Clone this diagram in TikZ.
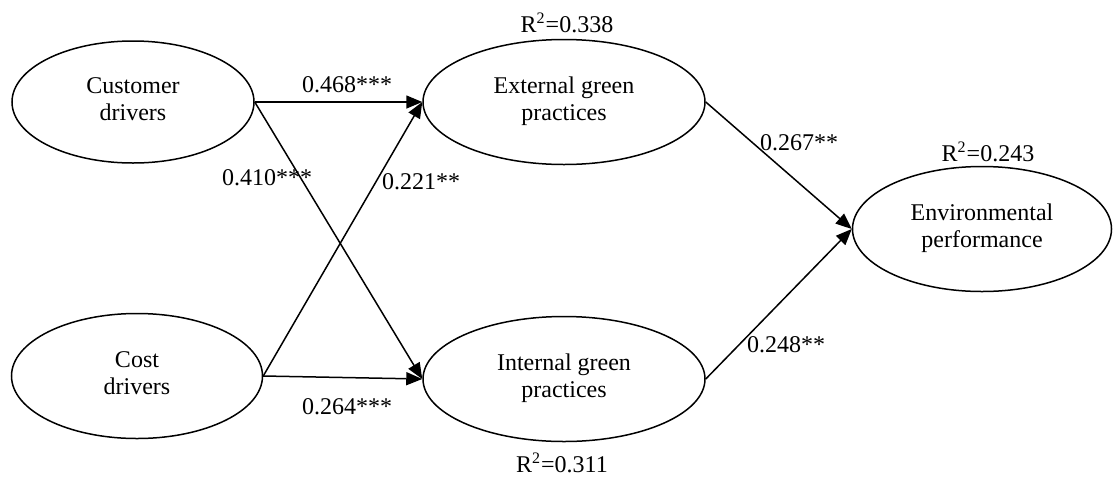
\documentclass[tikz,border=0pt]{standalone}
\usepackage{fontspec}
\setmainfont{Liberation Serif}
\usetikzlibrary{arrows.meta,shapes.geometric}
\begin{document}
\begin{tikzpicture}[x=0.5pt,y=-0.5pt,
  construct/.style={draw,ellipse,line width=0.75pt,inner sep=0pt,align=center,
    text depth=3.2pt,font=\fontsize{12}{13.5}\selectfont},
  arr/.style={line width=0.75pt,-{Triangle[length=8pt,width=6.5pt]}},
  coef/.style={inner sep=0pt,font=\fontsize{12}{13.5}\selectfont}]
\useasboundingbox (0,0) rectangle (1113,477);
\node[construct,minimum width=121pt,minimum height=61pt] (cust) at (133,102) {Customer\\drivers};
\node[construct,minimum width=125.5pt,minimum height=62.5pt] (cost) at (137,376) {Cost\\drivers};
\node[construct,minimum width=141pt,minimum height=62.5pt] (ext) at (564,102) {External green\\practices};
\node[construct,minimum width=141pt,minimum height=62.5pt] (int) at (564,379) {Internal green\\practices};
\node[construct,minimum width=129.5pt,minimum height=62.5pt] (env) at (982,229) {Environmental\\performance};
\draw[arr] (cust.east) -- (ext.west);
\draw[arr] (cust.east) -- (int.west);
\draw[arr] (cost.east) -- (ext.west);
\draw[arr] (cost.east) -- (int.west);
\draw[arr] (ext.east) -- (env.west);
\draw[arr] (int.east) -- (env.west);
\node[coef] (l1) at (347,85) {0.468***};
\node[coef] (l2) at (267,178) {0.410***};
\node[coef] (l3) at (421,182) {0.221**};
\node[coef] (l4) at (347,407) {0.264***};
\node[coef] (l5) at (799,143) {0.267**};
\node[coef] (l6) at (786,345) {0.248**};
\node[coef] (r1) at (567,23) {R\textsuperscript{2}=0.338};
\node[coef] (r2) at (988,152) {R\textsuperscript{2}=0.243};
\node[coef] (r3) at (562,463) {R\textsuperscript{2}=0.311};
\end{tikzpicture}
\end{document}
